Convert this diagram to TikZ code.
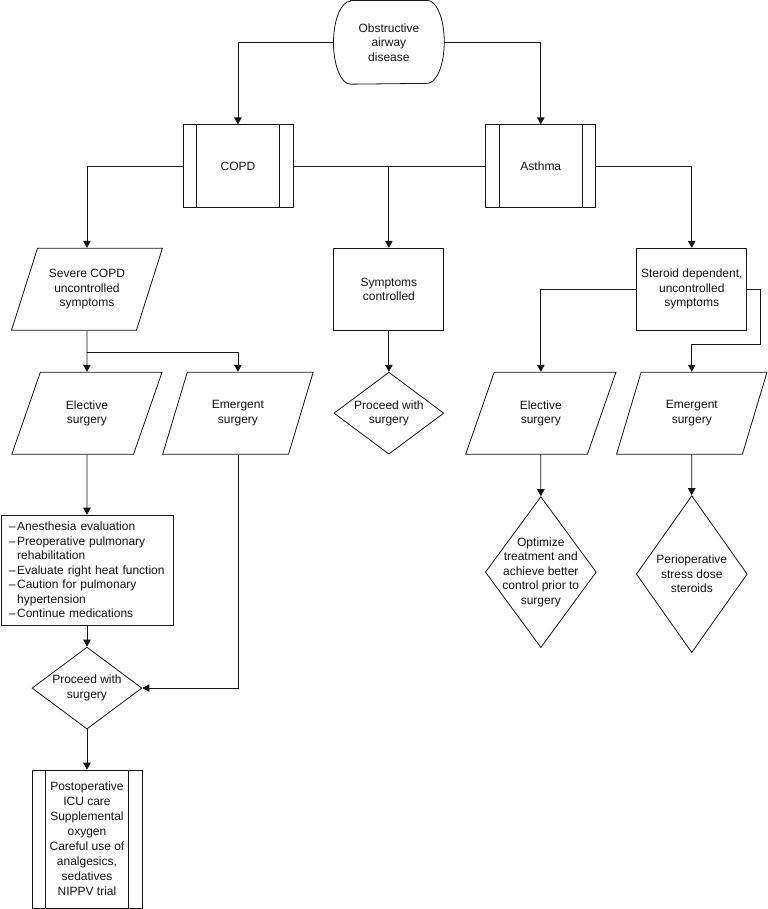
\documentclass[tikz,border=0pt]{standalone}
\usepackage{fontspec}
\setmainfont{Liberation Sans}
\usetikzlibrary{arrows.meta,shapes.geometric}
\definecolor{Ink}{HTML}{141414}
\newcommand{\dashitem}{\textendash\hspace{1.5pt}}
\newcommand{\dashgap}{\hspace*{8.2pt}}

\begin{document}
\begin{tikzpicture}[x=1pt,y=-1pt,>={Triangle[length=7pt,width=7.5pt]},line width=.8pt,color=Ink,
every node/.style={font=\fontsize{12}{14.5}\selectfont,text=Ink,align=center,inner sep=0pt},
box/.style={draw,minimum width=110pt,minimum height=82pt},
proc/.style={box,minimum height=83pt,path picture={\draw([xshift=13.5pt]path picture bounding box.north west)--([xshift=13.5pt]path picture bounding box.south west)([xshift=-13.5pt]path picture bounding box.north east)--([xshift=-13.5pt]path picture bounding box.south east);}},
para/.style={draw,trapezium,trapezium left angle=63.4,trapezium right angle=116.6,trapezium stretches=true,minimum width=151pt,minimum height=82pt},
dec/.style={draw,diamond,inner sep=-12pt,minimum width=110pt,minimum height=82pt}]
\fill[white](0,0)rectangle(768,909);
\node[minimum width=110pt,minimum height=83pt](obst)at(389,42){Obstructive\\airway\\disease};
\draw([xshift=17pt]obst.north west)--([xshift=-17pt]obst.north east)arc[start angle=90,end angle=-90,x radius=17pt,y radius=41.5pt]--([xshift=17pt]obst.south west)arc[start angle=270,end angle=90,x radius=17pt,y radius=41.5pt]--cycle;
\node[proc](copd)at(238,166){COPD};\node[proc](asthma)at(541,166){Asthma};
\node[para](severe)at(87,289){Severe COPD\\uncontrolled\\symptoms};\node[box](sympt)at(389,289){Symptoms\\controlled};\node[box](steroid)at(692,289){Steroid dependent,\\uncontrolled\\symptoms};
\node[para](elecL)at(87,413){Elective\\surgery};\node[para](emerL)at(238,413){Emergent\\surgery};\node[dec](procS)at(389,413){Proceed with\\surgery};\node[para](elecR)at(541,413){Elective\\surgery};\node[para](emerR)at(692,413){Emergent\\surgery};
\node[draw,align=left,inner xsep=8pt,text width=156pt,minimum height=110pt](evalL)at(87,570){\dashitem Anesthesia evaluation\\\dashitem Preoperative pulmonary\\\dashgap rehabilitation\\\dashitem Evaluate right heat function\\\dashitem Caution for pulmonary\\\dashgap hypertension\\\dashitem Continue medications};
\node[dec](procL)at(87,688){Proceed with\\surgery};
\node[proc,minimum height=138pt,font=\fontsize{12}{15}\selectfont](post)at(87,839){Postoperative\\ICU care\\Supplemental\\oxygen\\Careful use of\\analgesics,\\sedatives\\NIPPV trial};
\node[dec,minimum width=111pt,minimum height=151pt](optim)at(541,572){Optimize\\treatment and\\achieve better\\control prior to\\surgery};
\node[dec,minimum width=111pt,minimum height=157pt](stress)at(692,574){Perioperative\\stress dose\\steroids};
% connectors
\draw[->](obst.west)-|(copd.north);\draw[->](obst.east)-|(asthma.north);
\draw[->](copd.west)-|(severe.north);\draw(copd.east)--(asthma.west);\draw[->](sympt.north|-copd.east)--(sympt.north);\draw[->](asthma.east)-|(steroid.north);
\coordinate(splitL)at(87,352);\draw[->](severe.south)--(elecL.north);\draw[->](splitL)-|(emerL.north);\draw[->](sympt.south)--(procS.north);
\coordinate(bendR)at(761,344);\draw[->](steroid.west)-|(elecR.north);\draw[->](steroid.east)-|(bendR)-|(emerR.north);
\draw[->](elecL.south)--(evalL.north);\draw[->](evalL.south)--(procL.north);\draw[->](emerL.south)|-(procL.east);\draw[->](procL.south)--(post.north);
\draw[->](elecR.south)--(optim.north);\draw[->](emerR.south)--(stress.north);
\end{tikzpicture}
\end{document}
